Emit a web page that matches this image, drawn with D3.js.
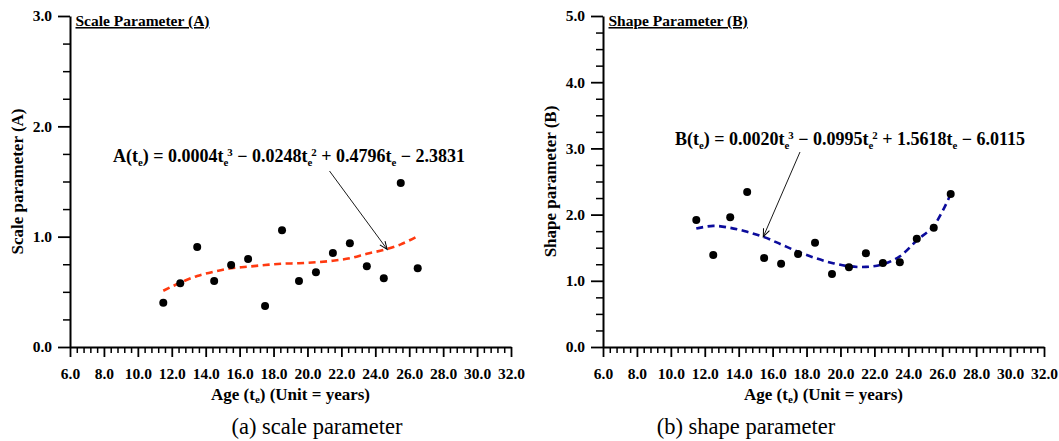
<!DOCTYPE html>
<html>
<head>
<meta charset="utf-8">
<script src="https://cdn.jsdelivr.net/npm/d3@7"></script>
<style>
  body { margin: 0; background: #fff; }
  svg text { font-family: "Liberation Serif", "Times New Roman", serif; fill: #000; }
</style>
</head>
<body>
<svg id="chart" width="1059" height="441"></svg>
<script>
// Specimen ages (years)
const ages = [11.5, 12.5, 13.5, 14.5, 15.5, 16.5, 17.5, 18.5, 19.5, 20.5, 21.5, 22.5, 23.5, 24.5, 25.5, 26.5];

// Estimated Weibull scale parameter A at each age
const scaleValues = [0.40, 0.577, 0.907, 0.598, 0.743, 0.798, 0.372, 1.058, 0.598, 0.677, 0.852, 0.94, 0.732, 0.623, 1.487, 0.713];
// Estimated Weibull shape parameter B at each age
const shapeValues = [1.918, 1.39, 1.96, 2.34, 1.344, 1.258, 1.405, 1.576, 1.103, 1.204, 1.415, 1.269, 1.279, 1.636, 1.802, 2.311];

// Fitted cubic regression curves, sampled at the same ages
const scaleFit = [0.51, 0.583, 0.644, 0.683, 0.713, 0.728, 0.743, 0.755, 0.759, 0.768, 0.782, 0.804, 0.845, 0.88, 0.93, 1.005];
const shapeFit = [1.79, 1.83, 1.80, 1.74, 1.66, 1.55, 1.44, 1.345, 1.27, 1.22, 1.21, 1.25, 1.37, 1.61, 1.83, 2.31];

// Axis ticks
const ageTicks = [6, 8, 10, 12, 14, 16, 18, 20, 22, 24, 26, 28, 30, 32];
const scaleTicks = [0, 1, 2, 3];
const shapeTicks = [0, 1, 2, 3, 4, 5];

// Regression equations, as text runs (sub = subscript, sup = superscript)
const scaleEquation = [
  {t: "A(t"}, {t: "e", sub: true}, {t: ") = 0.0004t"}, {t: "e", sub: true}, {t: "3", sup: true},
  {t: " \u2212 0.0248t"}, {t: "e", sub: true}, {t: "2", sup: true},
  {t: " + 0.4796t"}, {t: "e", sub: true}, {t: " \u2212 2.3831"}
];
const shapeEquation = [
  {t: "B(t"}, {t: "e", sub: true}, {t: ") = 0.0020t"}, {t: "e", sub: true}, {t: "3", sup: true},
  {t: " \u2212 0.0995t"}, {t: "e", sub: true}, {t: "2", sup: true},
  {t: " + 1.5618t"}, {t: "e", sub: true}, {t: " \u2212 6.0115"}
];

const svg = d3.select("#chart");

const defs = svg.append("defs");
defs.append("marker")
  .attr("id", "arrowhead")
  .attr("markerUnits", "userSpaceOnUse")
  .attr("viewBox", "-10 -5 12 10")
  .attr("refX", 0).attr("refY", 0)
  .attr("markerWidth", 12).attr("markerHeight", 10)
  .attr("orient", "auto")
  .append("path")
  .attr("d", "M-8,-3.2 L0,0 L-8,3.2")
  .attr("fill", "none")
  .attr("stroke", "#000")
  .attr("stroke-width", 1);

function drawEquation(g, x, y, runs, size) {
  const text = g.append("text")
    .attr("x", x).attr("y", y)
    .attr("font-weight", "bold")
    .attr("font-size", size);
  let shift = 0;
  runs.forEach((r, i) => {
    const ts = text.append("tspan").text(r.t);
    let target = 0, fs = size;
    if (r.sub) { target = 4; fs = size * 0.6; }
    if (r.sup) { target = -6.5; fs = size * 0.6; }
    ts.attr("font-size", fs).attr("dy", target - shift);
    if (r.sup && runs[i - 1] && runs[i - 1].sub) ts.attr("dx", -1);
    shift = target;
  });
}

function drawPanel(cfg) {
  const g = svg.append("g");
  const x = d3.scaleLinear().domain([6, 32]).range(cfg.xRange);
  const y = d3.scaleLinear().domain(cfg.yDomain).range([347, 16]);

  // x axis: minor ticks every 0.4, major every 2
  const xMinor = d3.range(6, 32.001, 0.4).filter(v => Math.abs(v / 2 - Math.round(v / 2)) > 1e-6);
  g.append("g")
    .attr("transform", `translate(0,${y(0)})`)
    .call(d3.axisBottom(x).tickValues(xMinor).tickSize(6).tickSizeOuter(0).tickFormat(""))
    .call(a => a.select(".domain").remove())
    .call(a => a.selectAll("line").attr("stroke-width", 1.5));
  g.append("g")
    .attr("transform", `translate(0,${y(0)})`)
    .call(d3.axisBottom(x).tickValues(ageTicks).tickSize(10).tickSizeOuter(0).tickPadding(11).tickFormat(d3.format(".1f")))
    .call(a => a.select(".domain").attr("stroke-width", 2))
    .call(a => a.selectAll("line").attr("stroke-width", 1.8))
    .call(a => a.selectAll("text").attr("font-size", 15.5).attr("font-weight", "bold"));

  // y axis: minor ticks every 0.25, major every 1
  const yMinor = d3.range(cfg.yDomain[0], cfg.yDomain[1] + 0.001, 0.25).filter(v => Math.abs(v - Math.round(v)) > 1e-6);
  g.append("g")
    .attr("transform", `translate(${cfg.xRange[0]},0)`)
    .call(d3.axisLeft(y).tickValues(yMinor).tickSize(7).tickSizeOuter(0).tickFormat(""))
    .call(a => a.select(".domain").remove())
    .call(a => a.selectAll("line").attr("stroke-width", 1.5));
  g.append("g")
    .attr("transform", `translate(${cfg.xRange[0]},0)`)
    .call(d3.axisLeft(y).tickValues(cfg.yTicks).tickSize(12).tickSizeOuter(0).tickPadding(6).tickFormat(d3.format(".1f")))
    .call(a => a.select(".domain").attr("stroke-width", 2))
    .call(a => a.selectAll("line").attr("stroke-width", 1.8))
    .call(a => a.selectAll("text").attr("font-size", 15.5).attr("font-weight", "bold"));

  // fitted regression curve
  const line = d3.line()
    .x((d, i) => x(ages[i]))
    .y(d => y(d))
    .curve(d3.curveCatmullRom.alpha(0.5));
  g.append("path")
    .datum(cfg.fit)
    .attr("d", line)
    .attr("fill", "none")
    .attr("stroke", cfg.color)
    .attr("stroke-width", 2.6)
    .attr("stroke-dasharray", "7,4.5");

  // observed points
  g.selectAll("circle.pt")
    .data(cfg.values)
    .join("circle")
    .attr("class", "pt")
    .attr("cx", (d, i) => x(ages[i]))
    .attr("cy", d => y(d))
    .attr("r", 4)
    .attr("fill", "#000");

  // panel title
  g.append("text")
    .attr("x", cfg.xRange[0] + 5.5).attr("y", 26)
    .attr("font-weight", "bold").attr("font-size", 15.5)
    .attr("text-decoration", "underline")
    .text(cfg.title);

  // axis titles
  const xt = g.append("text")
    .attr("x", (cfg.xRange[0] + cfg.xRange[1]) / 2).attr("y", 400)
    .attr("text-anchor", "middle")
    .attr("font-weight", "bold").attr("font-size", 17);
  xt.append("tspan").text("Age (t");
  xt.append("tspan").text("e").attr("font-size", 11).attr("dy", 3);
  xt.append("tspan").text(") (Unit = years)").attr("dy", -3);

  g.append("text")
    .attr("transform", `translate(${cfg.xRange[0] - 47},${(347 + 16) / 2}) rotate(-90)`)
    .attr("text-anchor", "middle")
    .attr("font-weight", "bold").attr("font-size", 17)
    .text(cfg.yTitle);

  // equation with leader arrow to the curve
  drawEquation(g, cfg.eqPos[0], cfg.eqPos[1], cfg.equation, 18);
  g.append("line")
    .attr("x1", cfg.arrowFrom[0]).attr("y1", cfg.arrowFrom[1])
    .attr("x2", x(cfg.arrowAt[0])).attr("y2", y(cfg.arrowAt[1]))
    .attr("stroke", "#000").attr("stroke-width", 0.9)
    .attr("marker-end", "url(#arrowhead)");

  // caption
  g.append("text")
    .attr("x", cfg.caption[1]).attr("y", 434)
    .attr("text-anchor", "middle")
    .attr("font-size", 22.5)
    .attr("fill", "#1a1a1a")
    .text(cfg.caption[0]);
}

drawPanel({
  xRange: [70, 511],
  yDomain: [0, 3],
  yTicks: scaleTicks,
  values: scaleValues,
  fit: scaleFit,
  color: "#ff3a10",
  title: "Scale Parameter (A)",
  yTitle: "Scale parameter (A)",
  equation: scaleEquation,
  eqPos: [113, 162],
  arrowFrom: [329.5, 171],
  arrowAt: [24.7, 0.885],
  caption: ["(a) scale parameter", 317]
});

drawPanel({
  xRange: [603, 1044],
  yDomain: [0, 5],
  yTicks: shapeTicks,
  values: shapeValues,
  fit: shapeFit,
  color: "#0c0c9c",
  title: "Shape Parameter (B)",
  yTitle: "Shape parameter (B)",
  equation: shapeEquation,
  eqPos: [675, 145],
  arrowFrom: [800, 152],
  arrowAt: [15.45, 1.665],
  caption: ["(b) shape parameter", 746]
});
</script>
</body>
</html>
